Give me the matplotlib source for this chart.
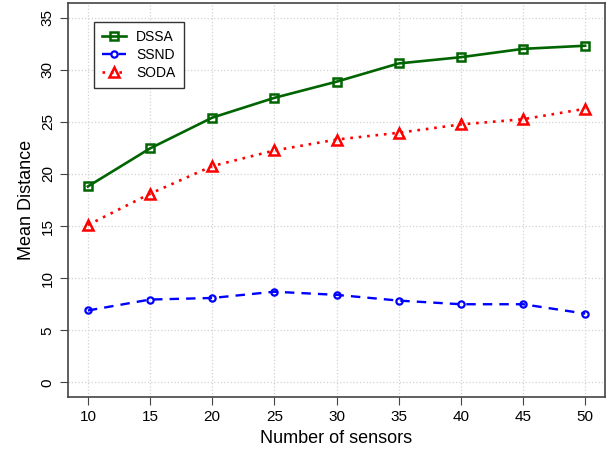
import matplotlib.pyplot as plt

plt.rcParams['font.family'] = ['Liberation Sans', 'DejaVu Sans']

sensors = [10, 15, 20, 25, 30, 35, 40, 45, 50]
dssa = [18.8, 22.45, 25.4, 27.3, 28.85, 30.6, 31.2, 32.0, 32.3]
ssnd = [6.9, 7.95, 8.1, 8.7, 8.4, 7.85, 7.5, 7.5, 6.6]
soda = [15.1, 18.1, 20.75, 22.25, 23.3, 23.95, 24.75, 25.25, 26.25]

fig = plt.figure(figsize=(6.11, 4.54), dpi=100)
ax = fig.add_axes([68 / 611, 1 - 397 / 454, 537 / 611, 394 / 454])

ax.plot(sensors, dssa, color='#006400', lw=1.9, ls='-', marker='s', ms=6,
        mfc='none', mew=1.8, label='DSSA')
ax.plot(sensors, ssnd, color='blue', lw=1.7, ls=(0, (4, 3)), marker='o', ms=4.5,
        mfc='none', mew=1.6, label='SSND')
ax.plot(sensors, soda, color='red', lw=1.9, ls=(0, (1, 2.2)), marker='^', ms=7,
        mfc='none', mew=1.8, label='SODA')

ax.set_xlim(8.4, 51.6)
ax.set_ylim(-1.4, 36.4)
ax.set_xticks(sensors)
ax.set_yticks(range(0, 36, 5))
ax.grid(True, color='#d3d3d3', ls=':', lw=0.9)
ax.set_axisbelow(True)

ax.tick_params(labelsize=11, length=6, color='#444444', direction='out')
for lab in ax.get_yticklabels():
    lab.set_rotation(90)
    lab.set_va('center')
for s in ax.spines.values():
    s.set_color('#444444')
    s.set_linewidth(1.2)

ax.set_xlabel('Number of sensors', fontsize=13)
ax.set_ylabel('Mean Distance', fontsize=13)

leg = ax.legend(loc='upper left', bbox_to_anchor=(0.048, 0.952), fontsize=10,
                fancybox=False, framealpha=1, edgecolor='#333333',
                borderaxespad=0, handlelength=1.7, handletextpad=0.75,
                labelspacing=0.28, borderpad=0.6)
leg.get_frame().set_linewidth(1.0)

fig.savefig('out.png', dpi=100)
